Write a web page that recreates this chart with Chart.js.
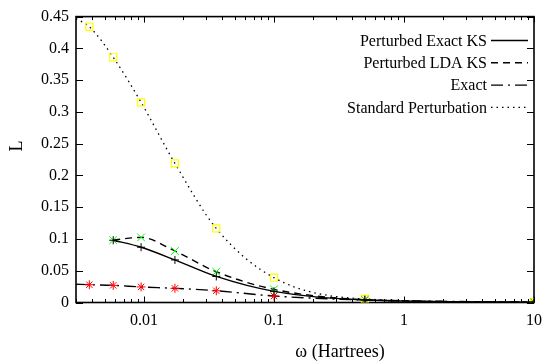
<!DOCTYPE html>
<html><head><meta charset="utf-8">
<script src="https://cdn.jsdelivr.net/npm/chart.js@4"></script>
<style>html,body{margin:0;padding:0;background:#fff}#wrap{width:551px;height:362px}</style>
</head><body><div id="wrap"><canvas id="c" width="551" height="362"></canvas></div>
<script>
// ---- data ----
const seriesLabels = ['Perturbed Exact KS', 'Perturbed LDA KS', 'Exact', 'Standard Perturbation'];
const omegaKS = [0.0058, 0.0095, 0.0173, 0.036, 0.1, 0.5, 10];
const perturbedExactKS = [0.098, 0.087, 0.067, 0.041, 0.0176, 0.004, 0.0005];
const perturbedLdaKS = [0.0982, 0.1025, 0.081, 0.0484, 0.0207, 0.0045, 0.0005];
const omegaFull = [0.003, 0.0038, 0.0058, 0.0095, 0.0173, 0.036, 0.1, 0.5, 10];
const exactL = [0.0287, 0.028, 0.027, 0.0245, 0.0223, 0.0185, 0.0102, 0.004, 0.0005];
const standardL = [0.447, 0.434, 0.386, 0.315, 0.219, 0.1165, 0.039, 0.0055, 0.0005];
const xTickValues = [0.01, 0.1, 1, 10];
const yTickValues = [0, 0.05, 0.1, 0.15, 0.2, 0.25, 0.3, 0.35, 0.4, 0.45];
const xTitle = 'ω (Hartrees)';
const yTitle = 'L';

const FONT = "Liberation Serif";
Chart.defaults.font.family = FONT;
Chart.defaults.font.size = 16;
Chart.defaults.color = '#000';
const pts = (xs, ys) => xs.map((x, i) => ({x: x, y: ys[i]}));

const lineDash = [[], [7, 5], [12, 5, 2, 5], [1.5, 4]];

const datasets = [
  {label: seriesLabels[0], data: pts(omegaKS, perturbedExactKS), borderColor: '#000', borderWidth: 1.4,
   borderDash: lineDash[0], pointStyle: 'cross', pointRadius: 4, pointBorderColor: '#000', pointBorderWidth: 1},
  {label: seriesLabels[1], data: pts(omegaKS, perturbedLdaKS), borderColor: '#000', borderWidth: 1.4,
   borderDash: lineDash[1], pointStyle: 'crossRot', pointRadius: 5.5, pointBorderColor: '#00ff00', pointBorderWidth: 1},
  {label: seriesLabels[2], data: pts(omegaFull, exactL), borderColor: '#000', borderWidth: 1.4,
   borderDash: lineDash[2], pointStyle: 'star', pointRadius: c => c.dataIndex === 0 ? 0 : 4.5,
   pointBorderColor: '#ff0000', pointBorderWidth: 1},
  {label: seriesLabels[3], data: pts(omegaFull, standardL), borderColor: '#000', borderWidth: 1.3,
   borderDash: lineDash[3], pointStyle: 'rect', pointRadius: c => c.dataIndex === 0 ? 0 : 5,
   pointBorderColor: '#ffff00', pointBackgroundColor: 'rgba(0,0,0,0)', pointBorderWidth: 1.2}
];
datasets.forEach(d => { d.fill = false; d.cubicInterpolationMode = 'monotone'; d.pointHoverRadius = 0; });

const framePlugin = {
  id: 'frame',
  beforeDatasetsDraw(chart) {
    const {ctx, chartArea: a, scales} = chart;
    ctx.save();
    ctx.strokeStyle = '#000';
    ctx.lineWidth = 1;
    ctx.beginPath();
    const xs = scales.x;
    for (let e = -3; e <= 1; e++) {
      for (let m = 1; m <= 9; m++) {
        const v = m * Math.pow(10, e);
        if (v < xs.min * 0.999 || v > xs.max * 1.001) continue;
        const px = Math.round(xs.getPixelForValue(v)) + 0.5;
        const len = m === 1 ? 6 : 3.5;
        ctx.moveTo(px, a.bottom); ctx.lineTo(px, a.bottom - len);
        ctx.moveTo(px, a.top); ctx.lineTo(px, a.top + len);
      }
    }
    const ys = scales.y;
    yTickValues.forEach(v => {
      const py = Math.round(ys.getPixelForValue(v)) + 0.5;
      ctx.moveTo(a.left, py); ctx.lineTo(a.left + 7, py);
      ctx.moveTo(a.right, py); ctx.lineTo(a.right - 7, py);
    });
    ctx.stroke();
    ctx.lineWidth = 1.6;
    ctx.strokeRect(a.left, a.top, a.right - a.left, a.bottom - a.top);
    ctx.restore();
  },
  afterDraw(chart) {
    const {ctx} = chart;
    ctx.save();
    ctx.fillStyle = '#000';
    ctx.font = '16px "' + FONT + '"';
    ctx.textAlign = 'right';
    ctx.textBaseline = 'middle';
    const x0 = 487, lx0 = 491, lx1 = 528, y0 = 40.5, dy = 22.3;
    seriesLabels.forEach((lab, i) => {
      const y = y0 + i * dy;
      ctx.fillText(lab, x0, y + 1);
      ctx.beginPath();
      ctx.setLineDash(lineDash[i]);
      ctx.lineWidth = 1.4;
      ctx.strokeStyle = '#000';
      ctx.moveTo(lx0, y); ctx.lineTo(lx1, y);
      ctx.stroke();
    });
    ctx.setLineDash([]);
    ctx.font = '18px "' + FONT + '"';
    ctx.textAlign = 'center';
    ctx.fillText(xTitle, 340, 352);
    ctx.translate(17.5, 146);
    ctx.rotate(-Math.PI / 2);
    ctx.fillText(yTitle, 0, 0);
    ctx.restore();
  }
};

new Chart(document.getElementById('c'), {
  type: 'line',
  data: {datasets: datasets},
  options: {
    responsive: false,
    animation: false,
    events: [],
    layout: {padding: {left: 0, right: 9, top: 16, bottom: 0}},
    plugins: {legend: {display: false}, tooltip: {enabled: false}},
    scales: {
      x: {
        type: 'logarithmic', min: 0.003, max: 10,
        grid: {display: false, drawTicks: false}, border: {display: false},
        afterBuildTicks: s => { s.ticks = xTickValues.map(v => ({value: v})); },
        afterFit: s => { s.height = 59.5; },
        ticks: {autoSkip: false, maxRotation: 0, padding: 9, color: '#000',
                font: {family: FONT, size: 16}, callback: v => String(v)}
      },
      y: {
        type: 'linear', min: 0, max: 0.45,
        grid: {display: false, drawTicks: false}, border: {display: false},
        afterBuildTicks: s => { s.ticks = yTickValues.map(v => ({value: v})); },
        afterFit: s => { s.width = 76; },
        ticks: {autoSkip: false, padding: 7, color: '#000',
                font: {family: FONT, size: 16}, callback: v => String(+(+v).toFixed(2))}
      }
    }
  },
  plugins: [framePlugin]
});
</script></body></html>
